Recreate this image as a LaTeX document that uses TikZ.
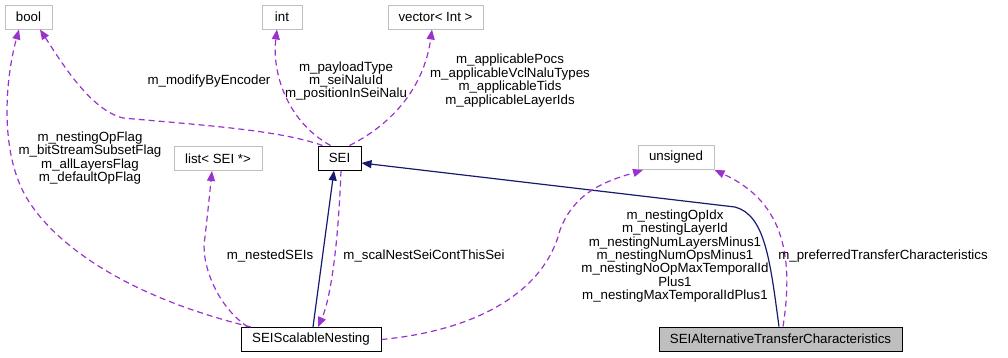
\documentclass[tikz,border=0pt]{standalone}
\usepackage{fontspec}
\setmainfont{Liberation Sans}
\usetikzlibrary{arrows.meta}
\definecolor{edgenavy}{HTML}{191970}
\definecolor{edgeorchid}{HTML}{9A32CD}
\definecolor{boxgray}{HTML}{BFBFBF}
\begin{document}
\begin{tikzpicture}[x=1pt,y=-1pt,
    font=\fontsize{13.3}{13.4}\selectfont,
    cls/.style={draw=boxgray,fill=white,line width=1pt,minimum height=24pt,inner sep=0pt},
    this/.style={draw=black,line width=1pt,minimum height=24pt,inner sep=0pt},
    inh/.style={edgenavy,line width=1.2pt,-{Triangle[length=10pt,width=8pt]}},
    usage/.style={edgeorchid,line width=1.2pt,dash pattern=on 6pt off 4pt,-{Triangle[length=10pt,width=8pt]}},
    lbl/.style={align=center,inner sep=0pt}]
  \useasboundingbox (0,0) rectangle (1008,357);
  % classes
  \node[cls,minimum width=47pt]  (bool)     at (28.5,17)  {bool};
  \node[cls,minimum width=40pt]  (int)      at (282,17)   {int};
  \node[cls,minimum width=95pt]  (vecint)   at (435.5,17) {vector< Int >};
  \node[this,fill=white,minimum width=43pt] (sei) at (339.5,158) {SEI};
  \node[cls,minimum width=88pt]  (seilist)  at (218,158.5) {list< SEI *>};
  \node[cls,minimum width=76pt]  (unsigned) at (676,157.5) {unsigned};
  \node[this,fill=white,minimum width=140pt] (nesting) at (311,339.5) {SEIScalableNesting};
  \node[this,fill=boxgray,minimum width=243pt] (altchar) at (780.5,339) {SEIAlternativeTransferCharacteristics};
  % inheritance
  \draw[inh] ([xshift=2pt]nesting.north) -- ([xshift=-5.5pt]sei.south);
  \draw[inh] ([xshift=-1.5pt]altchar.north) .. controls (770,260) and (765,215) .. (735,207)
    -- ([yshift=-5pt]sei.east);
  % members
  \draw[usage] ([xshift=-17pt]sei.north) .. controls (280,130) and (200,125) .. (123,118)
    .. controls (90,110) and (60,60) .. ([xshift=11.5pt]bool.south);
  \draw[usage] ([xshift=-9pt]sei.north) .. controls (285,120) and (272,70) .. ([xshift=-5pt]int.south);
  \draw[usage] ([xshift=10pt]sei.north) .. controls (400,120) and (425,80) .. ([xshift=-3.5pt]vecint.south);
  \draw[usage] ([xshift=-60pt]nesting.north) .. controls (120,295) and (50,240) .. (25,195)
    .. controls (0,150) and (5,80) .. ([xshift=-9.5pt]bool.south);
  \draw[usage] ([xshift=-63pt]nesting.north) .. controls (215,305) and (200,260) .. (205,237)
    .. controls (208,210) .. ([xshift=-6pt]seilist.south);
  \draw[usage] ([xshift=1.5pt]sei.south) .. controls (338,250) and (330,300) .. ([xshift=7pt]nesting.north);
  \draw[usage] (nesting.east) .. controls (480,330) and (545,290) .. (560,230)
    .. controls (575,190) and (610,180) .. ([xshift=-33pt]unsigned.south);
  \draw[usage] ([xshift=2.5pt]altchar.north) .. controls (795,250) and (780,200) .. (unsigned.south east);
  % labels
  \node[lbl] (lmodify) at (209,81) {m\_modifyByEncoder};
  \node[lbl] (lpayload) at (346,81) {m\_payloadType\\m\_seiNaluId\\m\_positionInSeiNalu};
  \node[lbl] (lapplic) at (510,80.5) {m\_applicablePocs\\m\_applicableVclNaluTypes\\m\_applicableTids\\m\_applicableLayerIds};
  \node[lbl] (lflags) at (90,158) {m\_nestingOpFlag\\m\_bitStreamSubsetFlag\\m\_allLayersFlag\\m\_defaultOpFlag};
  \node[lbl] (lnested) at (270,256) {m\_nestedSEIs};
  \node[lbl] (lcont) at (424,256) {m\_scalNestSeiContThisSei};
  \node[lbl] (lnestidx) at (675,256) {m\_nestingOpIdx\\m\_nestingLayerId\\m\_nestingNumLayersMinus1\\m\_nestingNumOpsMinus1\\m\_nestingNoOpMaxTemporalId\\Plus1\\m\_nestingMaxTemporalIdPlus1};
  \node[lbl] (lpref) at (883,256) {m\_preferredTransferCharacteristics};
\end{tikzpicture}
\end{document}
